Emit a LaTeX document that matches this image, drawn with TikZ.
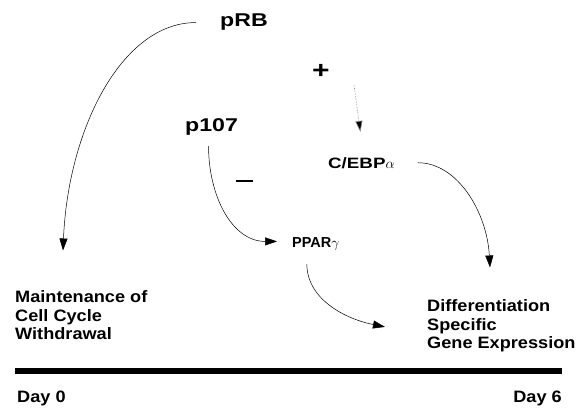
\documentclass[tikz,border=0pt]{standalone}
\usepackage{fontspec}
\setmainfont{Liberation Sans}
\newfontfamily\fa[FakeStretch=1.25]{Liberation Sans}
\newfontfamily\fb[FakeStretch=1.1]{Liberation Sans}
\usetikzlibrary{arrows.meta,calc}
\begin{document}
\begin{tikzpicture}[x=1pt,y=-1pt,
  big/.style={inner sep=0pt,font=\fa\bfseries\fontsize{18.5}{18.5}\selectfont},
  plusfont/.style={inner sep=0pt,font=\fa\bfseries\fontsize{24}{24}\selectfont},
  mid/.style={inner sep=0pt,font=\fa\bfseries\fontsize{15}{15}\selectfont},
  small/.style={inner sep=0pt,font=\bfseries\fontsize{14.5}{14.5}\selectfont},
  txt/.style={inner sep=0pt,align=left,font=\fb\bfseries\fontsize{16.5}{18.5}\selectfont},
  arr/.style={line width=0.5pt,-{Triangle[length=12pt,width=8pt]}},
  dotarr/.style={line width=0.6pt,densely dotted,draw=black!45,-{Triangle[length=11pt,width=7pt,fill=black]}}]
\useasboundingbox (0,0) rectangle (585,409);
\fill[white] (0,0) rectangle (585,409);
% labels
\node[big,anchor=base west] (prb) at (220,27) {pRB};
\node[big,anchor=base west] (p107) at (185,131) {p107};
\node[plusfont] (plus) at (321,71) {+};
\node[inner sep=0pt] (minus) at (244.5,181) {\rule{17pt}{1.5pt}};
\node[mid,anchor=base west] (cebp) at (328,168) {C/EBP$\alpha$};
\node[small,anchor=base west] (ppar) at (292,247) {PPAR$\gamma$};
\node[txt,anchor=north west] (maint) at (15,290.5) {Maintenance of\\Cell Cycle\\Withdrawal};
\node[txt,anchor=north west] (diff) at (427,299.5) {Differentiation\\Specific\\Gene Expression};
% time line
\coordinate (t0) at (15,371);
\coordinate (t6) at (562,371);
\draw[line width=6pt] (t0) -- (t6);
\node[txt,anchor=base west] (d0) at (17,402) {Day 0};
\node[txt,anchor=base east] (d6) at (562,402) {Day 6};
% connectors
\draw[arr] ($(prb.west)+(-24,0)$) .. controls +(-75,0) and +(5,-120) .. ($(maint.north west)+(48,-40)$);
\draw[arr] ($(p107.south)+(-3,11)$) .. controls +(0,50) and +(-45,0) .. ($(ppar.west)+(-15,-2)$);
\draw[dotarr] ($(plus)+(33,14)$) -- ($(cebp.north)+(-1,-25)$);
\draw[arr] ($(cebp.east)+(23,0)$) .. controls +(40,0) and +(-3,-55) .. ($(diff.north west)+(63,-32)$);
\draw[arr] ($(ppar.south)+(-9,14)$) .. controls +(0,35) and +(-40,-8) .. ($(diff.west)+(-42,1)$);
\end{tikzpicture}
\end{document}
